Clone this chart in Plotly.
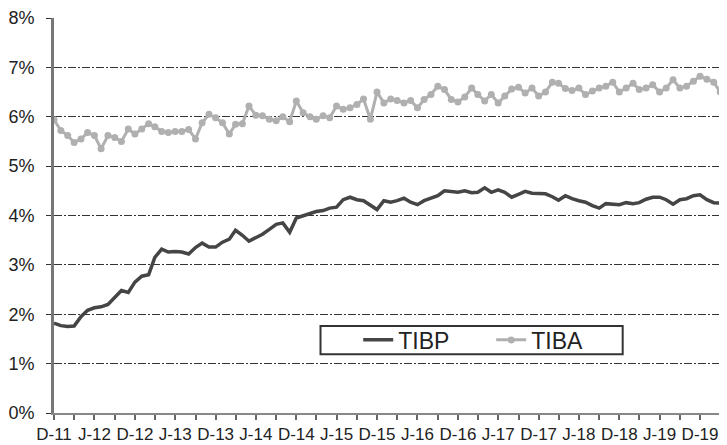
import pandas as pd
import plotly.graph_objects as go

# Monthly data, Dec 2011 onwards
months = pd.date_range("2011-12-01", periods=101, freq="MS")

tibp = [1.82, 1.77, 1.75, 1.76, 1.95, 2.08, 2.13, 2.15, 2.20, 2.35,
        2.48, 2.44, 2.65, 2.77, 2.80, 3.15, 3.32, 3.26, 3.27, 3.26,
        3.22, 3.35, 3.44, 3.36, 3.36, 3.46, 3.52, 3.70, 3.60, 3.48,
        3.55, 3.62, 3.72, 3.82, 3.85, 3.66, 3.95, 4.00, 4.05, 4.08,
        4.10, 4.15, 4.17, 4.32, 4.37, 4.32, 4.30, 4.20, 4.12, 4.30,
        4.27, 4.30, 4.35, 4.27, 4.22, 4.30, 4.35, 4.40, 4.50, 4.48,
        4.47, 4.50, 4.46, 4.47, 4.56, 4.47, 4.52, 4.47, 4.37, 4.43,
        4.49, 4.45, 4.44, 4.44, 4.38, 4.31, 4.40, 4.34, 4.30, 4.27,
        4.20, 4.15, 4.24, 4.23, 4.22, 4.26, 4.24, 4.26, 4.33, 4.37,
        4.37, 4.32, 4.23, 4.32, 4.34, 4.40, 4.42, 4.32, 4.26, 4.25,
        4.27]

tiba = [5.94, 5.72, 5.62, 5.48, 5.55, 5.68, 5.62, 5.35, 5.62, 5.58,
        5.50, 5.75, 5.65, 5.75, 5.86, 5.80, 5.70, 5.68, 5.70, 5.70,
        5.74, 5.55, 5.88, 6.05, 5.98, 5.88, 5.65, 5.85, 5.86, 6.22,
        6.03, 6.02, 5.95, 5.92, 6.00, 5.90, 6.32, 6.08, 6.00, 5.95,
        6.02, 5.98, 6.22, 6.15, 6.18, 6.25, 6.36, 5.95, 6.50, 6.28,
        6.36, 6.33, 6.28, 6.33, 6.18, 6.35, 6.45, 6.62, 6.55, 6.35,
        6.30, 6.40, 6.58, 6.45, 6.32, 6.45, 6.28, 6.42, 6.56, 6.60,
        6.48, 6.58, 6.42, 6.50, 6.70, 6.68, 6.57, 6.53, 6.58, 6.45,
        6.52, 6.58, 6.62, 6.70, 6.50, 6.58, 6.68, 6.55, 6.58, 6.65,
        6.50, 6.58, 6.75, 6.58, 6.62, 6.72, 6.82, 6.76, 6.70, 6.50,
        6.45]

# Ticks every 3 months, labels every 6 months
tick_dates = pd.date_range("2011-12-01", "2019-12-01", freq="3MS")
tick_labels = ["D-11", "", "J-12", "", "D-12", "", "J-13", "", "D-13", "",
               "J-14", "", "D-14", "", "J-15", "", "D-15", "", "J-16", "",
               "D-16", "", "J-17", "", "D-17", "", "J-18", "", "D-18", "",
               "J-19", "", "D-19"]

fig = go.Figure()
fig.add_trace(go.Scatter(
    x=months, y=[v / 100 for v in tibp], name="TIBP", mode="lines",
    line=dict(color="#454545", width=3.5),
))
fig.add_trace(go.Scatter(
    x=months, y=[v / 100 for v in tiba], name="TIBA", mode="lines+markers",
    line=dict(color="#b0b0b0", width=3),
    marker=dict(color="#b0b0b0", size=7),
))

# page body has an 8px margin, so the figure is 8px smaller and shifted
fig.update_layout(
    width=719, height=437,
    margin=dict(l=42, r=0, t=10, b=32),
    plot_bgcolor="white", paper_bgcolor="white",
    font=dict(family="Liberation Sans, Arial, sans-serif", color="#222"),
    showlegend=True,
    legend=dict(
        orientation="h", x=0.452, y=0.185, xanchor="left", yanchor="middle",
        bgcolor="rgba(0,0,0,0)", borderwidth=0,
        font=dict(size=23, color="#222"), entrywidth=88,
    ),
    shapes=[dict(
        type="rect", xref="paper", yref="paper",
        x0=0.396, x1=0.845, y0=0.149, y1=0.220,
        line=dict(color="#333", width=2), fillcolor="white", layer="below",
    )],
)

fig.update_xaxes(
    range=[months[0], months[-1]],
    tickvals=tick_dates, ticktext=tick_labels, tickangle=0,
    tickfont=dict(size=17, color="#222"),
    showgrid=False, showline=True, linecolor="#888", linewidth=2,
    ticks="outside", ticklen=5, tickcolor="#666", tickwidth=2,
)
fig.update_yaxes(
    range=[0, 0.08], dtick=0.01, tickformat=".0%",
    tickfont=dict(size=18, color="#222"),
    showgrid=True, gridcolor="#333", gridwidth=1.4, griddash="8px,2px,2px,2px",
    zeroline=False, showline=True, linecolor="#777", linewidth=3,
    ticks="outside", ticklen=5, tickcolor="#333", ticklabelstandoff=8,
)

fig.write_html("out.html")
